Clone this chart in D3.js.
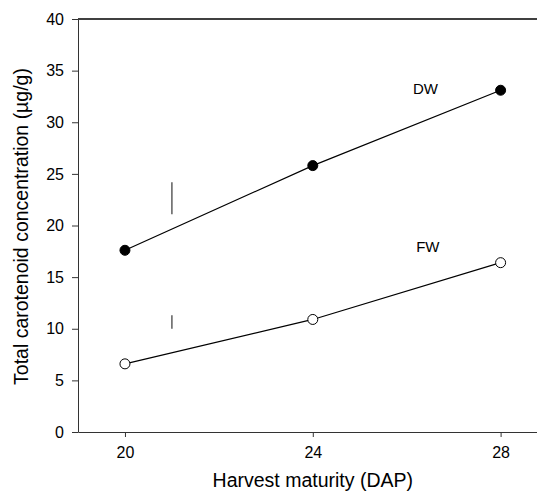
<!DOCTYPE html>
<html lang="en">
<head>
  <meta charset="UTF-8">
  <title>Total carotenoid concentration</title>
  <script src="https://d3js.org/d3.v7.min.js"></script>
  <style>
    body { margin: 0; background: #fff; }
    text { font-family: "Liberation Sans", Arial, sans-serif; fill: #000; }
    .line { fill: none; stroke: #000; stroke-width: 1.2px; }
  </style>
</head>
<body>
  <svg id="chart" width="537" height="499"></svg>

  <script>
    // Harvest maturity (days after pollination)
    const dap = [20, 24, 28];
    // Total carotenoid concentration, dry weight and fresh weight basis
    const dwValues = [17.6, 25.8, 33.1];
    const fwValues = [6.6, 10.9, 16.4];
    // LSD bars drawn at DAP 21: [low, high]
    const dwLsd = [21.1, 24.2];
    const fwLsd = [10.0, 11.3];
    const xTicks = [20, 24, 28];
    const yTicks = [0, 5, 10, 15, 20, 25, 30, 35, 40];

    const width = 537;
    const height = 499;
    const margin = { top: 19, right: 0, bottom: 67, left: 78 };

    const svg = d3.select("#chart")
      .attr("width", width)
      .attr("height", height);

    // Scales
    const xScale = d3.scaleLinear()
      .domain([19, 28.775])
      .range([margin.left, width - margin.right]);

    const yScale = d3.scaleLinear()
      .domain([0, 40])
      .range([height - margin.bottom, margin.top]);

    // Top frame line
    svg.append("line")
      .attr("x1", margin.left).attr("x2", width)
      .attr("y1", yScale(40)).attr("y2", yScale(40))
      .attr("stroke", "#000")
      .attr("stroke-width", 1.5);

    // x axis
    const xAxis = svg.append("g")
      .attr("transform", `translate(0, ${yScale(0)})`)
      .call(d3.axisBottom(xScale).tickValues(xTicks).tickSize(5).tickPadding(10).tickSizeOuter(0));

    // y axis
    const yAxis = svg.append("g")
      .attr("transform", `translate(${margin.left}, 0)`)
      .call(d3.axisLeft(yScale).tickValues(yTicks).tickSize(6).tickPadding(8).tickSizeOuter(0));

    [xAxis, yAxis].forEach(g => {
      g.select(".domain").attr("stroke", "#333");
      g.selectAll(".tick line").attr("stroke", "#333");
      g.selectAll(".tick text")
        .attr("font-family", "Liberation Sans, Arial, sans-serif")
        .attr("font-size", 16)
        .attr("fill", "#000");
    });

    // Axis titles
    svg.append("text")
      .attr("x", xScale(24))
      .attr("y", 487)
      .attr("text-anchor", "middle")
      .attr("font-size", 19.5)
      .text("Harvest maturity (DAP)");

    svg.append("text")
      .attr("transform", `translate(28, 226.5) rotate(-90)`)
      .attr("text-anchor", "middle")
      .attr("font-size", 19.5)
      .text("Total carotenoid concentration (µg/g)");

    // LSD bars
    [dwLsd, fwLsd].forEach(r => {
      svg.append("line")
        .attr("x1", xScale(21)).attr("x2", xScale(21))
        .attr("y1", yScale(r[0])).attr("y2", yScale(r[1]))
        .attr("stroke", "#444")
        .attr("stroke-width", 1.3);
    });

    const line = d3.line()
      .x((d, i) => xScale(dap[i]))
      .y(d => yScale(d));

    const series = [
      { name: "DW", values: dwValues, fill: "#000", label: [26.4, 33.2] },
      { name: "FW", values: fwValues, fill: "#fff", label: [26.45, 17.9] }
    ];

    series.forEach(s => {
      svg.append("path")
        .datum(s.values)
        .attr("class", "line")
        .attr("d", line);

      svg.selectAll(null)
        .data(s.values)
        .enter().append("circle")
        .attr("cx", (d, i) => xScale(dap[i]))
        .attr("cy", d => yScale(d))
        .attr("r", 5)
        .attr("fill", s.fill)
        .attr("stroke", "#000")
        .attr("stroke-width", 1);

      svg.append("text")
        .attr("x", xScale(s.label[0]))
        .attr("y", yScale(s.label[1]))
        .attr("dy", "0.35em")
        .attr("text-anchor", "middle")
        .attr("font-size", 15)
        .text(s.name);
    });
  </script>
</body>
</html>
